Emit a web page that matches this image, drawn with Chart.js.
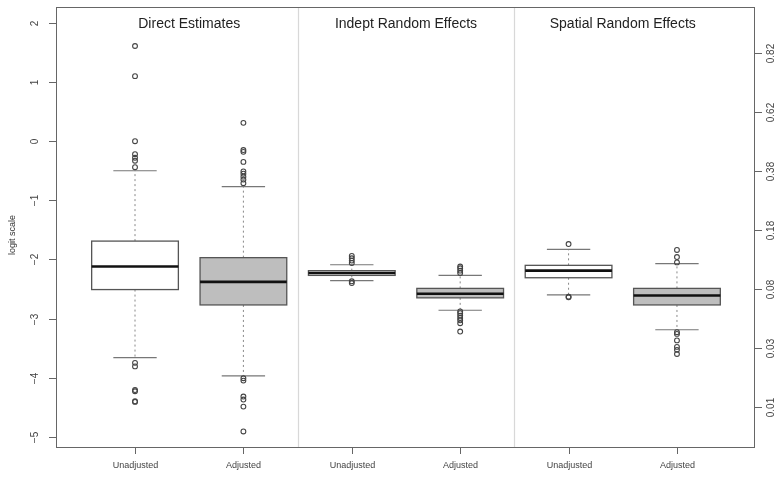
<!DOCTYPE html>
<html>
<head>
<meta charset="utf-8">
<script src="https://cdn.jsdelivr.net/npm/chart.js@4"></script>
<style>
html,body{margin:0;padding:0;background:#fff;}
canvas{display:block;}
</style>
</head>
<body>
<canvas id="c" width="776" height="479"></canvas>
<script>
const categories = ["Unadjusted","Adjusted","Unadjusted","Adjusted","Unadjusted","Adjusted"];
const panelTitles = ["Direct Estimates","Indept Random Effects","Spatial Random Effects"];
const boxFills = ["#ffffff","#bebebe","#ffffff","#bebebe","#ffffff","#bebebe"];
const q1 = [-2.51,-2.77,-2.27,-2.65,-2.31,-2.77];
const medians = [-2.12,-2.38,-2.23,-2.58,-2.19,-2.61];
const q3 = [-1.69,-1.97,-2.19,-2.49,-2.10,-2.49];
const whiskerLow = [-3.66,-3.97,-2.36,-2.86,-2.60,-3.19];
const whiskerHigh = [-0.50,-0.77,-2.09,-2.27,-1.83,-2.07];
const outliers = [
  [1.61,1.10,0.0,-0.22,-0.28,-0.33,-0.44,-3.75,-3.81,-4.21,-4.23,-4.40,-4.41],
  [0.31,-0.15,-0.18,-0.35,-0.51,-0.55,-0.60,-0.65,-0.71,-4.01,-4.05,-4.32,-4.37,-4.49,-4.91],
  [-1.94,-1.98,-2.02,-2.06,-2.37,-2.40],
  [-2.12,-2.15,-2.19,-2.23,-2.88,-2.91,-2.95,-2.99,-3.03,-3.08,-3.22],
  [-1.74,-2.63,-2.64],
  [-1.84,-1.96,-2.05,-3.23,-3.26,-3.37,-3.48,-3.53,-3.60]
];
const leftTicks = [-5,-4,-3,-2,-1,0,1,2];
const leftTickLabels = ["\u22125","\u22124","\u22123","\u22122","\u22121","0","1","2"];
const rightTickValues = [-4.5,-3.5,-2.5,-1.5,-0.5,0.5,1.5];
const rightTickLabels = ["0.01","0.03","0.08","0.18","0.38","0.62","0.82"];
const yAxisTitle = "logit scale";

const positions = categories.map((c,i)=>i+1);
const outlierPoints = [];
outliers.forEach((arr,i)=>arr.forEach(v=>outlierPoints.push({x:positions[i], y:v})));

const FONT = "'Liberation Sans', Arial, sans-serif";
const BOX_HALF = 0.4, CAP_HALF = 0.2;

const boxPlugin = {
  id: 'boxes',
  beforeDatasetsDraw(chart) {
    const ctx = chart.ctx, xs = chart.scales.x, ys = chart.scales.y, a = chart.chartArea;
    ctx.save();
    ctx.strokeStyle = '#d8d8d8'; ctx.lineWidth = 1.2;
    [2.5, 4.5].forEach(v=>{
      const px = Math.round(xs.getPixelForValue(v)) + 0.5;
      ctx.beginPath(); ctx.moveTo(px, a.top); ctx.lineTo(px, a.bottom); ctx.stroke();
    });
    ctx.fillStyle = '#222'; ctx.font = '14px ' + FONT; ctx.textAlign = 'center'; ctx.textBaseline = 'middle';
    panelTitles.forEach((t,i)=>{
      ctx.fillText(t, xs.getPixelForValue(1.5 + 2*i), 24);
    });
    positions.forEach((p,i)=>{
      const cx = xs.getPixelForValue(p);
      const x0 = xs.getPixelForValue(p - BOX_HALF), x1 = xs.getPixelForValue(p + BOX_HALF);
      const c0 = xs.getPixelForValue(p - CAP_HALF), c1 = xs.getPixelForValue(p + CAP_HALF);
      const yq1 = ys.getPixelForValue(q1[i]), yq3 = ys.getPixelForValue(q3[i]);
      const ym = ys.getPixelForValue(medians[i]);
      const ylo = ys.getPixelForValue(whiskerLow[i]), yhi = ys.getPixelForValue(whiskerHigh[i]);
      ctx.strokeStyle = '#888'; ctx.lineWidth = 1; ctx.setLineDash([2,3]);
      ctx.beginPath(); ctx.moveTo(cx, yq3); ctx.lineTo(cx, yhi); ctx.moveTo(cx, yq1); ctx.lineTo(cx, ylo); ctx.stroke();
      ctx.setLineDash([]);
      ctx.strokeStyle = '#777'; ctx.lineWidth = 1.2;
      ctx.beginPath(); ctx.moveTo(c0, yhi); ctx.lineTo(c1, yhi); ctx.moveTo(c0, ylo); ctx.lineTo(c1, ylo); ctx.stroke();
      ctx.fillStyle = boxFills[i];
      ctx.fillRect(x0, yq3, x1 - x0, yq1 - yq3);
      ctx.strokeStyle = '#555'; ctx.lineWidth = 1.3;
      ctx.strokeRect(x0, yq3, x1 - x0, yq1 - yq3);
      ctx.strokeStyle = '#111'; ctx.lineWidth = 2.6;
      ctx.beginPath(); ctx.moveTo(x0, ym); ctx.lineTo(x1, ym); ctx.stroke();
    });
    ctx.restore();
  },
  afterDraw(chart) {
    const ctx = chart.ctx, xs = chart.scales.x, ys = chart.scales.y, a = chart.chartArea;
    ctx.save();
    ctx.strokeStyle = '#666'; ctx.lineWidth = 1;
    ctx.strokeRect(Math.round(a.left)+0.5, Math.round(a.top)+0.5, Math.round(a.right-a.left)-1, Math.round(a.bottom-a.top)-1);
    ctx.strokeStyle = '#666'; ctx.fillStyle = '#444';
    ctx.font = '10px ' + FONT;
    leftTicks.forEach((v,i)=>{
      const py = Math.round(ys.getPixelForValue(v)) + 0.5;
      ctx.beginPath(); ctx.moveTo(a.left, py); ctx.lineTo(a.left - 7, py); ctx.stroke();
      ctx.save(); ctx.translate(35, py); ctx.rotate(-Math.PI/2);
      ctx.textAlign = 'center'; ctx.textBaseline = 'middle';
      ctx.fillText(leftTickLabels[i], 0, 0); ctx.restore();
    });
    rightTickValues.forEach((v,i)=>{
      const py = Math.round(ys.getPixelForValue(v)) + 0.5;
      ctx.beginPath(); ctx.moveTo(a.right, py); ctx.lineTo(a.right + 7, py); ctx.stroke();
      ctx.save(); ctx.translate(771, py); ctx.rotate(-Math.PI/2);
      ctx.textAlign = 'center'; ctx.textBaseline = 'middle';
      ctx.fillText(rightTickLabels[i], 0, 0); ctx.restore();
    });
    ctx.save(); ctx.font = '9px ' + FONT; ctx.fillStyle = '#333';
    ctx.translate(13, 235); ctx.rotate(-Math.PI/2);
    ctx.textAlign = 'center'; ctx.textBaseline = 'middle';
    ctx.fillText(yAxisTitle, 0, 0); ctx.restore();
    ctx.font = '9px ' + FONT; ctx.fillStyle = '#444';
    ctx.textAlign = 'center'; ctx.textBaseline = 'middle';
    positions.forEach((p,i)=>{
      const px = Math.round(xs.getPixelForValue(p)) + 0.5;
      ctx.beginPath(); ctx.moveTo(px, a.bottom); ctx.lineTo(px, a.bottom + 6); ctx.stroke();
      ctx.fillText(categories[i], px, 466);
    });
    ctx.restore();
  }
};

new Chart(document.getElementById('c'), {
  type: 'scatter',
  data: {
    datasets: [{
      data: outlierPoints,
      pointStyle: 'circle',
      pointRadius: 2.4,
      pointBorderWidth: 1.1,
      pointBorderColor: '#444',
      pointBackgroundColor: 'rgba(0,0,0,0)',
      showLine: false
    }]
  },
  options: {
    responsive: false,
    animation: false,
    devicePixelRatio: 1,
    layout: { padding: { left: 56, right: 21, top: 7, bottom: 31 } },
    plugins: { legend: { display: false }, tooltip: { enabled: false } },
    scales: {
      x: { type: 'linear', min: 0.271, max: 6.72, display: false },
      y: { type: 'linear', min: -5.19, max: 2.27, display: false }
    }
  },
  plugins: [boxPlugin]
});
</script>
</body>
</html>
